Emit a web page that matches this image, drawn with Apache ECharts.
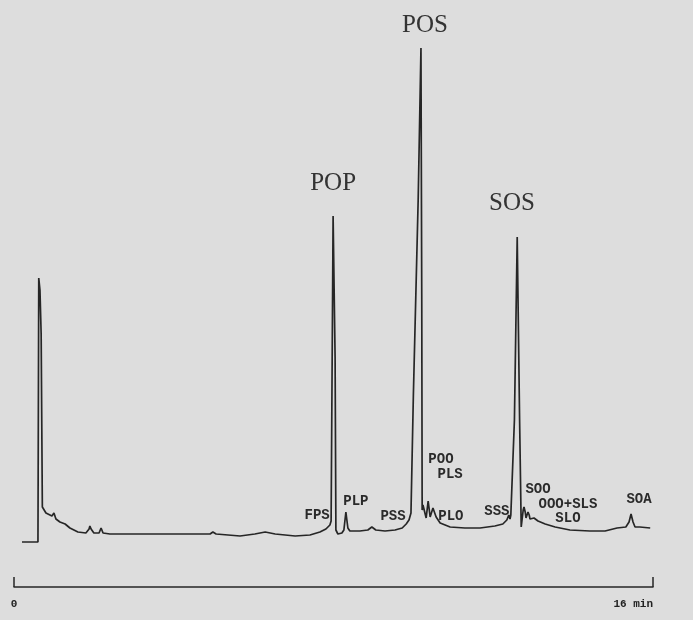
<!DOCTYPE html>
<html>
<head>
<meta charset="utf-8">
<script src="https://cdn.jsdelivr.net/npm/echarts@6/dist/echarts.min.js"></script>
<style>
  html, body { margin: 0; padding: 0; background: #dddddd; }
  #chart { width: 693px; height: 620px; }
</style>
</head>
<body>
<div id="chart"></div>
<script>
// ===== chromatogram trace: retention time (min) / detector response =====
const traceTime = [
  0.20, 0.60, 0.62, 0.64, 0.65, 0.68, 0.70, 0.71, 0.75, 0.80, 0.95, 1.00, 1.05, 1.15, 1.28, 1.40,
  1.60, 1.80, 1.88, 1.90, 1.93, 2.00, 2.13, 2.18, 2.23, 2.40, 3.66, 4.41, 4.91, 4.98, 5.06,
  5.66, 6.03, 6.29, 6.54, 7.04, 7.41, 7.66, 7.81, 7.91, 7.94, 7.96, 7.99, 8.01, 8.04, 8.06,
  8.11, 8.21, 8.26, 8.31, 8.36, 8.41, 8.66, 8.86, 8.96, 9.06, 9.29, 9.54, 9.72, 9.82, 9.89,
  9.94, 10.00, 10.12, 10.19, 10.22, 10.21, 10.22, 10.24, 10.27, 10.29, 10.32, 10.34, 10.37, 10.39,
  10.42, 10.47, 10.49, 10.52, 10.57, 10.67, 10.92, 11.29, 11.67, 12.04, 12.24, 12.34, 12.39,
  12.42, 12.44, 12.53, 12.60, 12.62, 12.66, 12.70, 12.75, 12.77, 12.80, 12.82, 12.85, 12.87,
  12.90, 12.92, 12.97, 13.02, 13.12, 13.30, 13.55, 13.92, 14.42, 14.80, 15.10, 15.32, 15.40,
  15.45, 15.50, 15.55, 15.67, 15.93
];
const traceResp = [
  0.6, 0.6, 53.4, 53.0, 51.0, 42.2, 42.4, 7.6, 7.4, 6.4, 5.8, 6.4, 5.2, 4.6, 4.2, 3.4,
  2.6, 2.4, 3.2, 3.8, 3.2, 2.4, 2.4, 3.4, 2.4, 2.2, 2.2, 2.2, 2.2, 2.6, 2.2,
  1.8, 2.2, 2.6, 2.2, 1.8, 2.0, 2.6, 3.2, 4.0, 4.8, 4.4, 65.8, 65.8, 37.6, 3.0,
  2.2, 2.4, 3.0, 6.6, 3.4, 2.8, 2.8, 3.0, 3.6, 3.0, 2.8, 3.0, 3.4, 4.2, 5.0,
  6.4, 30.0, 69.0, 99.4, 99.4, 49.0, 7.0, 8.0, 8.4, 8.4, 5.4, 5.4, 8.8, 8.6,
  5.6, 5.6, 7.4, 7.4, 5.6, 4.4, 3.6, 3.4, 3.4, 3.8, 4.2, 5.0, 6.0,
  5.2, 6.0, 25.0, 61.6, 61.6, 25.0, 3.6, 7.0, 7.6, 6.6, 5.4, 5.8, 6.6,
  6.0, 5.2, 5.2, 5.4, 4.8, 4.2, 3.6, 3.0, 2.8, 2.8, 3.4, 3.6, 4.6,
  6.2, 4.6, 3.6, 3.6, 3.4
];

// ===== peak labels: [name, time, response] =====
const bigLabels = [
  ['POS', 10.29, 104.0],
  ['POP', 7.99, 72.4],
  ['SOS', 12.47, 68.4]
];
const smallLabels = [
  ['FPS', 7.59, 6.0],
  ['PLP', 8.56, 8.8],
  ['PSS', 9.49, 5.8],
  ['POO', 10.69, 17.2],
  ['PLS', 10.92, 14.2],
  ['PLO', 10.94, 5.8],
  ['SSS', 12.09, 6.8],
  ['SOO', 13.12, 11.2],
  ['OOO+SLS', 13.87, 8.2],
  ['SLO', 13.87, 5.4],
  ['SOA', 15.65, 9.2]
];

// time bar
const timeMin = 0, timeMax = 16;

const ink = '#262626';
const chart = echarts.init(document.getElementById('chart'));

const mkLabel = (arr, font) => arr.map(([name, t, r]) => ({
    name, coord: [t, r],
    label: { formatter: name, ...font }
}));

chart.setOption({
    backgroundColor: '#dddddd',
    animation: false,
    grid: [
        { left: 14, right: 40, top: 20, bottom: 75 },
        { left: 14, right: 40, top: 560, bottom: 33 }
    ],
    xAxis: [
        { gridIndex: 0, type: 'value', min: timeMin, max: timeMax, show: false },
        {
            gridIndex: 1, type: 'value', min: timeMin, max: timeMax, interval: 16,
            axisLine: { show: true, lineStyle: { color: ink, width: 1.5 } },
            axisTick: { show: true, inside: true, length: 10, lineStyle: { color: ink, width: 1.5 } },
            splitLine: { show: false },
            axisLabel: {
                margin: 12, color: '#222', fontFamily: 'Liberation Mono', fontWeight: 'bold', fontSize: 11,
                alignMaxLabel: 'right',
                formatter: v => v === timeMax ? '16 min' : String(v)
            }
        }
    ],
    yAxis: [
        { gridIndex: 0, type: 'value', min: 0, max: 105, show: false },
        { gridIndex: 1, type: 'value', min: 0, max: 1, show: false }
    ],
    series: [{
        type: 'line',
        xAxisIndex: 0, yAxisIndex: 0,
        data: traceTime.map((t, i) => [t, traceResp[i]]),
        showSymbol: false,
        smooth: false,
        lineStyle: { color: ink, width: 1.7 },
        markPoint: {
            symbol: 'circle', symbolSize: 1,
            itemStyle: { color: 'rgba(0,0,0,0)' },
            label: { show: true, position: 'inside', color: '#222' },
            data: [
                ...mkLabel(bigLabels, { fontFamily: 'Liberation Serif', fontSize: 25, color: '#333' }),
                ...mkLabel(smallLabels, { fontFamily: 'Liberation Mono', fontWeight: 'bold', fontSize: 14, color: '#2a2a2a' })
            ]
        }
    }]
});
</script>
</body>
</html>
